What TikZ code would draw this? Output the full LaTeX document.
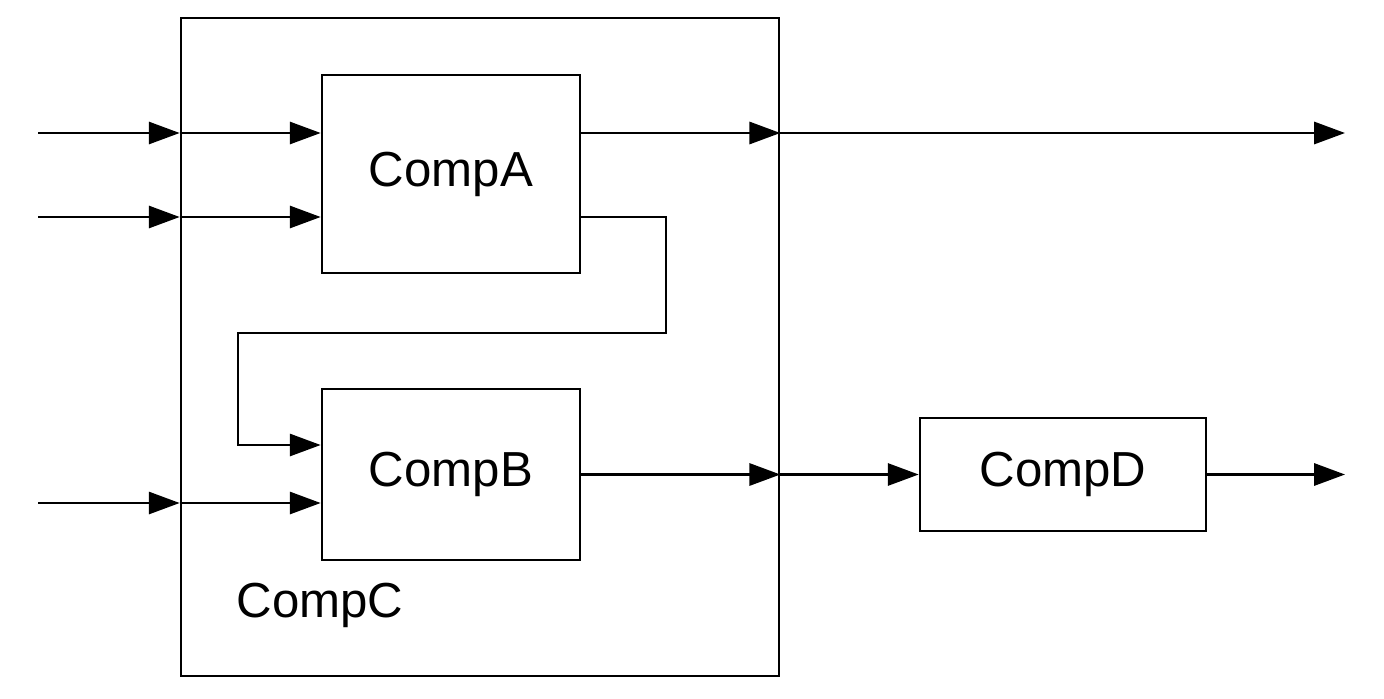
\documentclass[tikz,border=0pt]{standalone}
\usepackage{fontspec}
\setmainfont{Liberation Sans}
\usepackage{tikz}
\usetikzlibrary{arrows.meta,positioning,calc}
\tikzset{
  compbox/.style={draw=black,line width=0.75pt,inner sep=0pt,
                  font=\fontsize{14}{17}\selectfont},
  sigarr/.style={-{Triangle[length=8.8pt,width=6.3pt]},line width=0.75pt},
  sigline/.style={line width=0.75pt}
}
\begin{document}
\begin{tikzpicture}
  \useasboundingbox (0,0) rectangle (13.84,6.98);
  % outer component and its parts
  \node[compbox,minimum width=5.98cm,minimum height=6.58cm] (compC) at (4.80,3.51) {};
  \node[font=\fontsize{14}{17}\selectfont] (labC) at (3.20,0.93) {CompC};
  \node[compbox,minimum width=2.58cm,minimum height=1.98cm] (compA) at (4.51,5.24) {CompA};
  \node[compbox,minimum width=2.58cm,minimum height=1.71cm] (compB) at (4.51,2.235) {CompB};
  \node[compbox,minimum width=2.86cm,minimum height=1.13cm] (compD) at (10.63,2.235) {CompD};
  % free ends
  \coordinate (in1) at (0.38,5.65);
  \coordinate (in2) at (0.38,4.81);
  \coordinate (in3) at (0.38,1.95);
  \coordinate (out1) at (13.45,5.65);
  \coordinate (out2) at (13.45,2.235);
  % ports on the border of CompC
  \coordinate (pi1) at (in1 -| compC.west);
  \coordinate (pi2) at (in2 -| compC.west);
  \coordinate (pi3) at (in3 -| compC.west);
  \coordinate (po1) at (out1 -| compC.east);
  \coordinate (po2) at (out2 -| compC.east);
  % inputs
  \draw[sigarr] (in1) -- (pi1);
  \draw[sigarr] (in2) -- (pi2);
  \draw[sigarr] (in3) -- (pi3);
  \draw[sigarr] (pi1) -- (compA.west |- pi1);
  \draw[sigarr] (pi2) -- (compA.west |- pi2);
  \draw[sigarr] (pi3) -- (compB.west |- pi3);
  % outputs
  \draw[sigarr] (compA.east |- po1) -- (po1);
  \draw[sigarr] (po1) -- (out1);
  \draw[sigarr] (compB.east |- po2) -- (po2);
  \draw[sigarr] (po2) -- (compD.west);
  \draw[sigarr] (compD.east) -- (out2);
  % feedback A -> B
  \draw[sigarr] (compA.east |- pi2) -- (6.66,4.81) -- (6.66,3.65)
    -- (2.38,3.65) -- (2.38,2.53) -- (compB.west |- 0,2.53);
\end{tikzpicture}
\end{document}
